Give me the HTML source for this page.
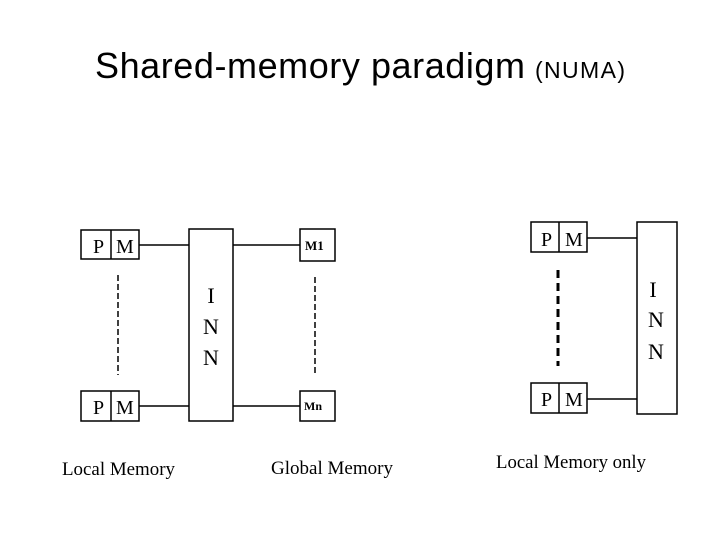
<!DOCTYPE html>
<html><head><style>
body{margin:0;width:720px;height:540px;background:#fff;overflow:hidden}
</style></head><body>
<svg width="720" height="540" xmlns="http://www.w3.org/2000/svg">
<text x="95" y="78" font-family="Liberation Sans, sans-serif" font-size="36" fill="#000" textLength="430" lengthAdjust="spacing">Shared-memory paradigm</text>
<text x="535" y="78" font-family="Liberation Sans, sans-serif" font-size="23" fill="#000" textLength="90" lengthAdjust="spacing">(NUMA)</text>
<g fill="none" stroke="#000" stroke-width="1.5">
<rect x="81" y="230" width="58" height="29"/><line x1="111" y1="230" x2="111" y2="259"/>
<rect x="81" y="391" width="58" height="30"/><line x1="111" y1="391" x2="111" y2="421"/>
<rect x="189" y="229" width="44" height="192"/>
<line x1="139" y1="245" x2="189" y2="245"/><line x1="139" y1="406" x2="189" y2="406"/>
<line x1="233" y1="245" x2="300" y2="245"/><line x1="233" y1="406" x2="300" y2="406"/>
<rect x="300" y="229" width="35" height="32"/><rect x="300" y="391" width="35" height="30"/>
<line x1="118" y1="275" x2="118" y2="375" stroke-dasharray="6,3"/>
<line x1="315" y1="277" x2="315" y2="375" stroke-dasharray="6,3"/>
<rect x="531" y="222" width="56" height="30"/><line x1="559" y1="222" x2="559" y2="252"/>
<rect x="531" y="383" width="56" height="30"/><line x1="559" y1="383" x2="559" y2="413"/>
<rect x="637" y="222" width="40" height="192"/>
<line x1="587" y1="238" x2="637" y2="238"/><line x1="587" y1="399" x2="637" y2="399"/>
<line x1="558" y1="270" x2="558" y2="366" stroke-width="3" stroke-dasharray="8,5"/>
</g>
<g font-family="Liberation Serif, serif" fill="#000">
<text x="93" y="253" font-size="20">P</text><text x="116" y="253" font-size="20">M</text>
<text x="93" y="414" font-size="20">P</text><text x="116" y="414" font-size="20">M</text>
<text x="305" y="250" font-size="13" font-weight="bold">M1</text><text x="304" y="410" font-size="12" font-weight="bold">Mn</text>
<text x="211" y="303" font-size="22" text-anchor="middle">I</text>
<text x="211" y="334" font-size="22" text-anchor="middle">N</text>
<text x="211" y="365" font-size="22" text-anchor="middle">N</text>
<text x="541" y="246" font-size="20">P</text><text x="565" y="246" font-size="20">M</text>
<text x="541" y="406" font-size="20">P</text><text x="565" y="406" font-size="20">M</text>
<text x="653" y="297" font-size="22" text-anchor="middle">I</text>
<text x="656" y="327" font-size="22" text-anchor="middle">N</text>
<text x="656" y="359" font-size="22" text-anchor="middle">N</text>
<text x="62" y="475" font-size="19" textLength="113" lengthAdjust="spacingAndGlyphs">Local Memory</text>
<text x="271" y="474" font-size="19" textLength="122" lengthAdjust="spacingAndGlyphs">Global Memory</text>
<text x="496" y="468" font-size="19" textLength="150" lengthAdjust="spacingAndGlyphs">Local Memory only</text>
</g>
</svg>
</body></html>
